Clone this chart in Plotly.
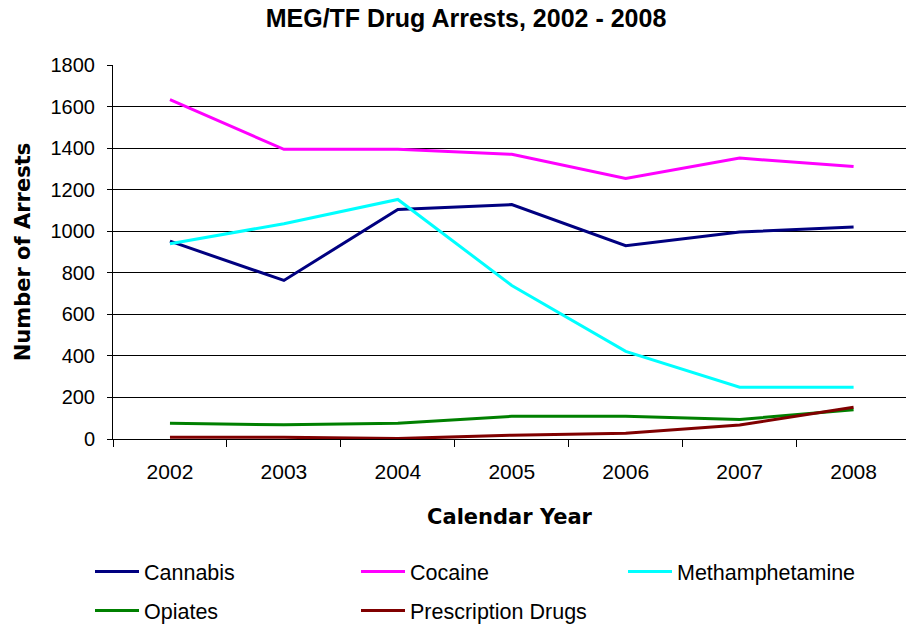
import plotly.graph_objects as go

years = ["2002", "2003", "2004", "2005", "2006", "2007", "2008"]

cannabis = [952, 763, 1105, 1128, 930, 996, 1020]
cocaine = [1633, 1394, 1394, 1370, 1254, 1352, 1311]
methamphetamine = [940, 1036, 1153, 739, 422, 249, 249]
opiates = [76, 68, 76, 109, 109, 94, 141]
prescription = [8, 8, 2, 18, 28, 67, 153]

series = [
    ("Cannabis", cannabis, "#000080"),
    ("Cocaine", cocaine, "#FF00FF"),
    ("Methamphetamine", methamphetamine, "#00FFFF"),
    ("Opiates", opiates, "#008000"),
    ("Prescription Drugs", prescription, "#800000"),
]

# legend grid: left edge of each column and top of each row, in pixels
legend_cols = [90, 356, 623]
legend_rows = [551, 590]

FONT = "Arial, Liberation Sans, sans-serif"
WIDE_BOLD = "DejaVu Sans, Arial, sans-serif"

fig = go.Figure()
legends = {}
for i, (name, vals, color) in enumerate(series):
    key = "legend" if i == 0 else f"legend{i + 1}"
    col = legend_cols[i % 3]
    row = legend_rows[i // 3]
    legends[key] = dict(
        orientation="h",
        xref="container", yref="container",
        x=col / 906, xanchor="left", y=1 - row / 625, yanchor="top",
        font=dict(family=FONT, size=21.5, color="black"),
        itemwidth=44,
        bgcolor="rgba(0,0,0,0)",
    )
    fig.add_trace(go.Scatter(
        x=years, y=vals, name=name, mode="lines",
        line=dict(color=color, width=3), legend=key,
    ))

fig.update_layout(
    width=906, height=625,
    margin=dict(l=113, r=0, t=65, b=186, autoexpand=False),
    paper_bgcolor="white", plot_bgcolor="white",
    font=dict(family=FONT, color="black", size=21),
    title=dict(
        text="<b>MEG/TF Drug Arrests, 2002 - 2008</b>",
        x=466 / 906, xanchor="center", y=1 - 18 / 625, yanchor="middle",
        xref="container", yref="container",
        font=dict(family=FONT, size=25, color="black"),
    ),
    showlegend=True,
    **legends,
)

fig.update_xaxes(
    type="category", automargin=False,
    showline=True, linecolor="black", linewidth=1,
    ticks="outside", tickson="boundaries", ticklen=7, tickcolor="black",
    tickfont=dict(family=FONT, size=21, color="black"),
    ticklabelstandoff=14,
    showgrid=False,
    title=dict(text="<b>Calendar Year</b>", standoff=27,
               font=dict(family=WIDE_BOLD, size=21, color="black")),
    range=[-0.5, 6.46],
)

fig.update_yaxes(
    range=[0, 1800], dtick=200, automargin=False,
    showline=True, linecolor="black", linewidth=1,
    ticks="outside", ticklen=5, tickcolor="black",
    tickfont=dict(family=FONT, size=20, color="black"),
    ticklabelstandoff=8,
    showgrid=True, gridcolor="black", gridwidth=1,
    zeroline=False,
    title=dict(text="<b>Number of Arrests</b>", standoff=14,
               font=dict(family=WIDE_BOLD, size=21, color="black")),
)

fig.write_html("out.html")
